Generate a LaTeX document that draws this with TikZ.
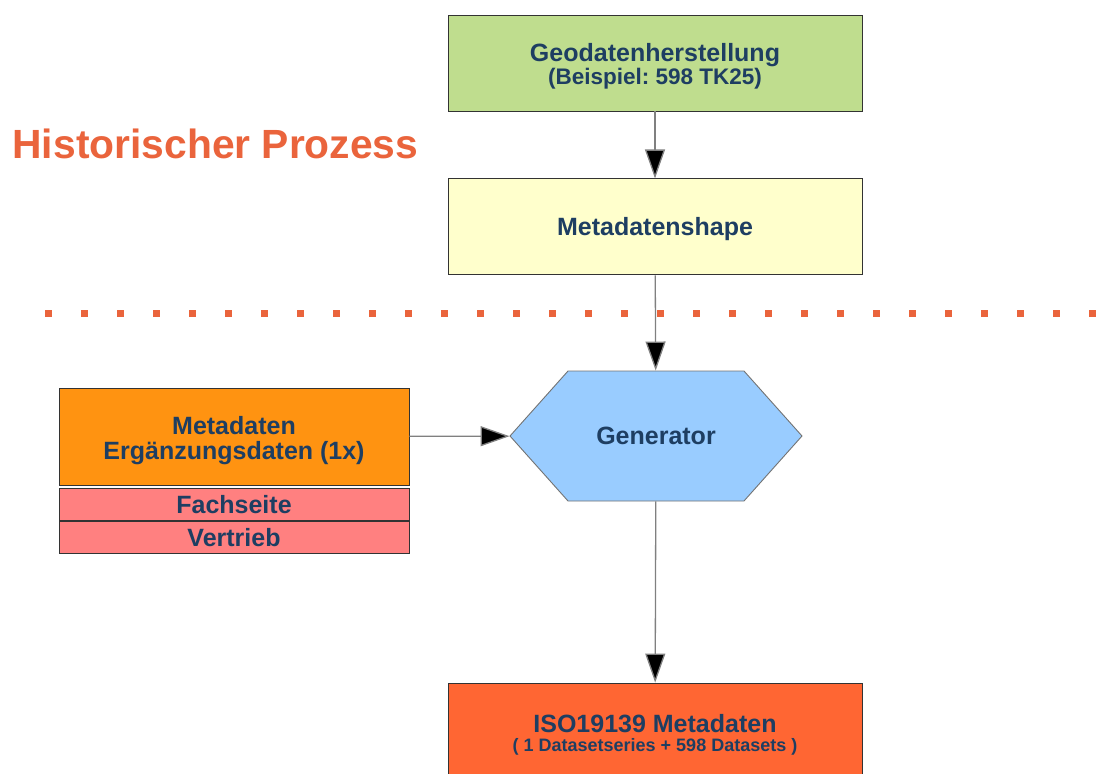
\documentclass[tikz,border=0pt]{standalone}
\usepackage{fontspec}
\setmainfont{Liberation Sans}
\usepackage{xcolor}
\definecolor{myt}{RGB}{30,62,98}
\definecolor{myg}{RGB}{191,221,142}
\definecolor{myy}{RGB}{255,255,204}
\definecolor{myo}{RGB}{255,147,17}
\definecolor{myp}{RGB}{255,128,128}
\definecolor{myb}{RGB}{153,204,255}
\definecolor{myr}{RGB}{255,102,51}
\definecolor{myh}{RGB}{234,100,60}
\usetikzlibrary{arrows.meta,positioning,shapes.symbols}
\frenchspacing

\begin{document}
\begin{tikzpicture}[x=1pt,y=-1pt]
			\tikzset{
				box/.style={
					draw=black!80,
					line width=0.9pt,
					minimum width=414pt,
					minimum height=96pt,
					inner sep=0pt,
					align=center,
					text=myt,
					font=\bfseries\fontsize{25}{26}\selectfont
				},
				flow/.style={
					draw=black!50,
					line width=1.3pt,
					-{Triangle[length=29pt,width=20pt,fill=black]}
				}
			}
			\clip (0,0) rectangle (1096,774);
			\node[anchor=base west, text=myh, font=\bfseries\fontsize{40.8}{40.8}\selectfont] (hist) at (9,158) {Historischer Prozess};
			\draw[myh, line width=7pt, dash pattern=on 7pt off 29pt] (45,313.5) -- (1100,313.5);
			\node[box, fill=myg] (geo) at (655,63) {\rule{0pt}{24pt}Geodatenherstellung\\[-3pt]{\fontsize{22.5}{22.5}\selectfont(Beispiel: 598 TK25)}};
			\node[box, fill=myy, below=67pt of geo] (shp) {\rule{0pt}{22pt}Metadatenshape};
			\node[box, draw=black!55, fill=myb, shape=signal, signal to=east and west, signal pointer angle=96.5, minimum width=292pt, minimum height=130pt] (gen) at (656,436) {Generator};
			\node[box, fill=myo, minimum width=350pt, minimum height=97pt] (meta) at (234,436.5) {\rule{0pt}{27pt}Metadaten\\[-1pt]Ergänzungsdaten (1x)};
			\node[box, fill=myp, minimum width=350pt, minimum height=32pt, below=3pt of meta] (fach) {Fachseite};
			\node[box, fill=myp, minimum width=350pt, minimum height=32pt, below=0pt of fach] (vert) {Vertrieb};
			\node[box, fill=myr, minimum height=104pt] (iso) at (655,735) {ISO19139 Metadaten\\[-7pt]{\fontsize{18}{18}\selectfont( 1 Datasetseries + 598 Datasets )}};
			\draw[flow] (geo) -- (shp);
			\draw[flow] (shp) -- (gen);
			\draw[flow] (meta) -- (gen);
			\draw[flow] (gen) -- (iso);
		\end{tikzpicture}
\end{document}
